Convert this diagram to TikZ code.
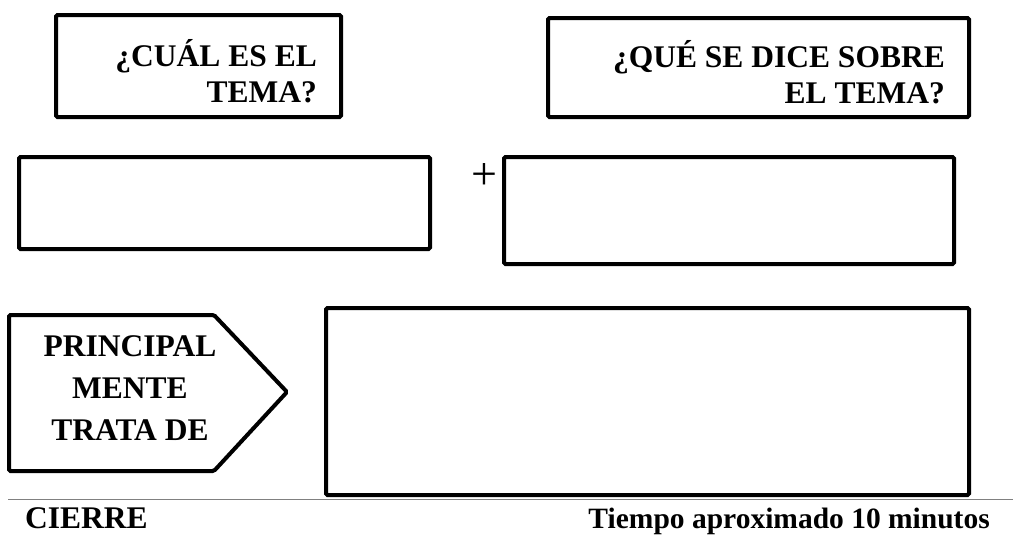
\documentclass[tikz,border=0pt]{standalone}
\usepackage{fontspec}
\setmainfont{Liberation Serif}
\usetikzlibrary{positioning}

\begin{document}
\begin{tikzpicture}[x=1pt,y=-1pt,
        box/.style={draw,line width=4pt,rounded corners=1.5pt,inner sep=0pt},
        question/.style={inner sep=0pt,align=right,anchor=east,font=\bfseries\fontsize{31.5}{36.5}\selectfont},
        tag/.style={inner sep=0pt,font=\bfseries\fontsize{31.5}{42}\selectfont}
    ]
        \useasboundingbox (0,0) rectangle (1013,536);

        % Questions
        \node[box,minimum width=285pt,minimum height=102pt] (tema) at (198.5,66) {};
        \node[question] (temaq) at (317,71) {¿CUÁL ES EL\\TEMA?};
        \node[box,minimum width=421pt,minimum height=99pt] (dice) at (758.5,67.5) {};
        \node[question] (diceq) at (945,72) {¿QUÉ SE DICE SOBRE\\EL TEMA?};

        % Answer boxes
        \node[box,minimum width=411pt,minimum height=92pt] (temaresp) at (224.5,203) {};
        \node[box,minimum width=450pt,minimum height=107pt] (diceresp) at (729,210.5) {};
        \node[inner sep=0pt,font=\fontsize{46}{46}\selectfont] (plus) at (484,177) {+};

        % Main idea
        \draw[line width=4pt,rounded corners=1.5pt] (9,315) -- (214,315) -- (287,392) -- (214,471) -- (9,471) -- cycle;
        \node[tag,align=center] (trata) at (130,388) {PRINCIPAL\\MENTE\\TRATA DE};
        \node[box,minimum width=643pt,minimum height=187pt] (idea) at (647.5,401.5) {};

        % Footer
        \draw[gray,line width=1.5pt] (8,499.5) -- (1013,499.5);
        \node[tag,anchor=base west] (cierre) at (25,528) {CIERRE};
        \node[tag,anchor=base east,font=\bfseries\fontsize{29.5}{36}\selectfont] (tiempo) at (990,528) {Tiempo aproximado 10 minutos};
    \end{tikzpicture}
\end{document}
